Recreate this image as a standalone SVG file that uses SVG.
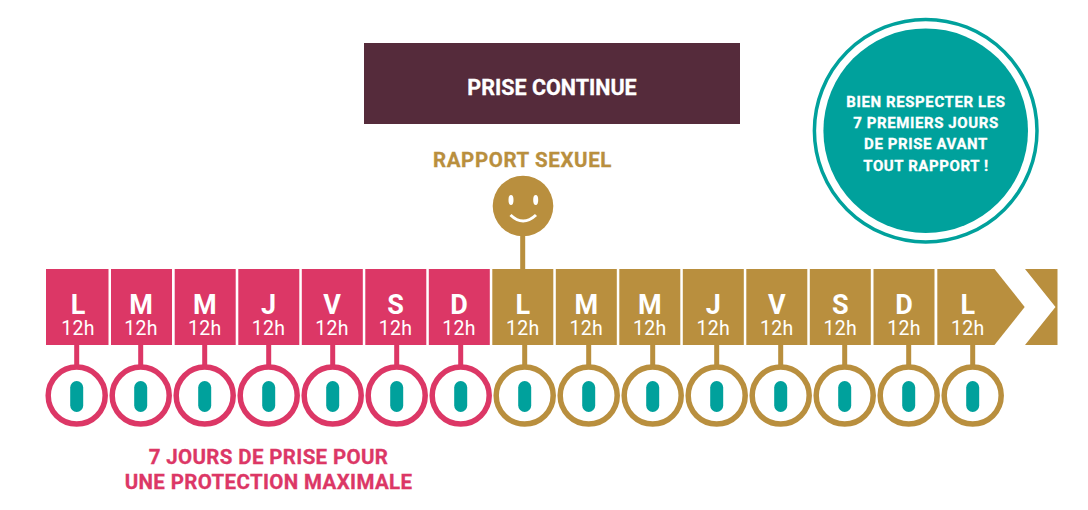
<svg xmlns="http://www.w3.org/2000/svg" width="1088" height="510" viewBox="0 0 1088 510">
<style>
text{text-anchor:middle;font-family:Roboto,"Liberation Sans",sans-serif}
.d{font-size:27px;font-weight:700;fill:#fff}
.h{font-size:19.500px;font-weight:400;fill:#fff;letter-spacing:.3px}
.p{fill:#dc3766}.b{fill:#b98f3e}
.rp{fill:#fff;stroke:#dc3766;stroke-width:5.5}
.rb{fill:#fff;stroke:#b98f3e;stroke-width:5.5}
.cp{stroke:#dc3766;stroke-width:5;fill:none}
.cb{stroke:#b98f3e;stroke-width:5;fill:none}
.pill{fill:#00a19c}
.t{font-size:15px;font-weight:700;fill:#fff;stroke:#fff;stroke-width:.3;letter-spacing:.6px}
.r{font-size:20.500px;font-weight:700;fill:#dc3766;stroke:#dc3766;stroke-width:.3;letter-spacing:.35px}
.k{font-size:20.500px;font-weight:700;fill:#b98f3e;stroke:#b98f3e;stroke-width:.3;letter-spacing:.6px}
.c{font-size:21.500px;font-weight:700;fill:#fff;stroke:#fff;stroke-width:.3}
</style>
<defs>
<rect id="pl" x="-6.5" y="-15.5" width="13" height="31" rx="6.5"/>
</defs>
<g id="connectors">
<path class="cp" d="M76.700 345V366M140.700 345V366M204.700 345V366M268.700 345V366M332.700 345V366M396.700 345V366M460.700 345V366"/>
<path class="cb" d="M524.700 345V366M588.700 345V366M652.700 345V366M716.700 345V366M780.700 345V366M844.700 345V366M908.700 345V366M972.700 345V366M522.700 236V269"/>
</g>
<g id="title"><rect x="364" y="43" width="376" height="81" fill="#552b3b"/><text class="c" x="552" y="95">PRISE CONTINUE</text></g>
<g id="note"><circle cx="925.700" cy="130.700" r="111.300" fill="#fff" stroke="#00a19c" stroke-width="3.500"/><circle cx="925.700" cy="130.700" r="102.300" fill="#00a19c"/>
<text class="t" x="926" y="106.700">BIEN RESPECTER LES</text><text class="t" x="926" y="127.700">7 PREMIERS JOURS</text><text class="t" x="926" y="149">DE PRISE AVANT</text><text class="t" x="926" y="170.700">TOUT RAPPORT !</text></g>
<g id="rapport"><text class="k" x="522.500" y="167">RAPPORT SEXUEL</text>
<circle class="b" cx="523" cy="206" r="30.300"/><ellipse cx="511" cy="200" rx="2.500" ry="5" fill="#fff"/><ellipse cx="535.700" cy="200" rx="2.500" ry="5" fill="#fff"/><path d="M510.500 215Q523 227 536 215" fill="none" stroke="#fff" stroke-width="3"/></g>
<g id="day-1"><rect class="p" x="46" y="269" width="62.500" height="76"/><text class="d" x="78" y="314">L</text><text class="h" x="78" y="335">12h</text><circle class="rp" cx="76.700" cy="395.600" r="28.500"/><use href="#pl" class="pill" x="76.700" y="396.500"/></g>
<g id="day-2"><rect class="p" x="111" y="269" width="61" height="76"/><text class="d" x="141" y="314">M</text><text class="h" x="141" y="335">12h</text><circle class="rp" cx="140.700" cy="395.600" r="28.500"/><use href="#pl" class="pill" x="140.700" y="396.500"/></g>
<g id="day-3"><rect class="p" x="174.700" y="269" width="61" height="76"/><text class="d" x="204.700" y="314">M</text><text class="h" x="204.700" y="335">12h</text><circle class="rp" cx="204.700" cy="395.600" r="28.500"/><use href="#pl" class="pill" x="204.700" y="396.500"/></g>
<g id="day-4"><rect class="p" x="238.300" y="269" width="61" height="76"/><text class="d" x="268.500" y="314">J</text><text class="h" x="268.500" y="335">12h</text><circle class="rp" cx="268.700" cy="395.600" r="28.500"/><use href="#pl" class="pill" x="268.700" y="396.500"/></g>
<g id="day-5"><rect class="p" x="301.800" y="269" width="61" height="76"/><text class="d" x="332" y="314">V</text><text class="h" x="332" y="335">12h</text><circle class="rp" cx="332.700" cy="395.600" r="28.500"/><use href="#pl" class="pill" x="332.700" y="396.500"/></g>
<g id="day-6"><rect class="p" x="365.300" y="269" width="61" height="76"/><text class="d" x="395.500" y="314">S</text><text class="h" x="395.500" y="335">12h</text><circle class="rp" cx="396.700" cy="395.600" r="28.500"/><use href="#pl" class="pill" x="396.700" y="396.500"/></g>
<g id="day-7"><rect class="p" x="428.800" y="269" width="61" height="76"/><text class="d" x="459" y="314">D</text><text class="h" x="459" y="335">12h</text><circle class="rp" cx="460.700" cy="395.600" r="28.500"/><use href="#pl" class="pill" x="460.700" y="396.500"/></g>
<g id="day-8"><rect class="b" x="492.300" y="269" width="61" height="76"/><text class="d" x="522.700" y="314">L</text><text class="h" x="522.700" y="335">12h</text><circle class="rb" cx="524.700" cy="395.600" r="28.500"/><use href="#pl" class="pill" x="524.700" y="396.500"/></g>
<g id="day-9"><rect class="b" x="555.800" y="269" width="61" height="76"/><text class="d" x="586.200" y="314">M</text><text class="h" x="586.200" y="335">12h</text><circle class="rb" cx="588.700" cy="395.600" r="28.500"/><use href="#pl" class="pill" x="588.700" y="396.500"/></g>
<g id="day-10"><rect class="b" x="619.300" y="269" width="61" height="76"/><text class="d" x="649.700" y="314">M</text><text class="h" x="649.700" y="335">12h</text><circle class="rb" cx="652.700" cy="395.600" r="28.500"/><use href="#pl" class="pill" x="652.700" y="396.500"/></g>
<g id="day-11"><rect class="b" x="682.800" y="269" width="61" height="76"/><text class="d" x="713.200" y="314">J</text><text class="h" x="713.200" y="335">12h</text><circle class="rb" cx="716.700" cy="395.600" r="28.500"/><use href="#pl" class="pill" x="716.700" y="396.500"/></g>
<g id="day-12"><rect class="b" x="746.300" y="269" width="61" height="76"/><text class="d" x="776.700" y="314">V</text><text class="h" x="776.700" y="335">12h</text><circle class="rb" cx="780.700" cy="395.600" r="28.500"/><use href="#pl" class="pill" x="780.700" y="396.500"/></g>
<g id="day-13"><rect class="b" x="809.800" y="269" width="61" height="76"/><text class="d" x="840.200" y="314">S</text><text class="h" x="840.200" y="335">12h</text><circle class="rb" cx="844.700" cy="395.600" r="28.500"/><use href="#pl" class="pill" x="844.700" y="396.500"/></g>
<g id="day-14"><rect class="b" x="873.500" y="269" width="61" height="76"/><text class="d" x="904" y="314">D</text><text class="h" x="904" y="335">12h</text><circle class="rb" cx="908.700" cy="395.600" r="28.500"/><use href="#pl" class="pill" x="908.700" y="396.500"/></g>
<g id="day-15"><path class="b" d="M937.300 269H994.500L1024.700 307L994.500 345H937.300Z"/><text class="d" x="967.700" y="314">L</text><text class="h" x="967.700" y="335">12h</text><circle class="rb" cx="972.700" cy="395.600" r="28.500"/><use href="#pl" class="pill" x="972.700" y="396.500"/></g>
<g id="chevron"><path class="b" d="M1025 269H1057.500V345H1025L1055.500 307Z"/></g>
<g id="caption"><text class="r" x="268.500" y="464">7 JOURS DE PRISE POUR</text><text class="r" x="268.500" y="489">UNE PROTECTION MAXIMALE</text></g>
</svg>
